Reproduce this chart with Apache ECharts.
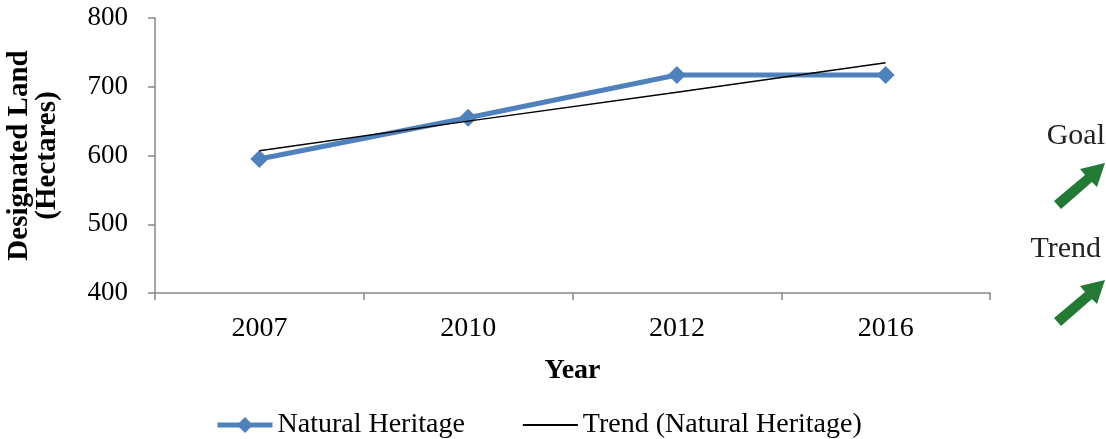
<!DOCTYPE html>
<html><head><meta charset="utf-8">
<script src="https://cdn.jsdelivr.net/npm/echarts@6/dist/echarts.min.js"></script>
<style>html,body{margin:0;padding:0;background:#fff}#c{width:1106px;height:439px}</style>
</head><body><div id="c"></div>
<script>
const categories = ['2007', '2010', '2012', '2016'];
const naturalHeritage = [595, 655, 717, 717];
const trendValues = [607, 650, 692, 735];
const yTicks = [400, 500, 600, 700, 800];

const FONT = '"Liberation Serif", "DejaVu Serif", serif';
const chart = echarts.init(document.getElementById('c'));
chart.setOption({
  animation: false,
  grid: { left: 155, right: 116, top: 18, bottom: 146, containLabel: false, outerBoundsMode: 'none' },
  xAxis: {
    type: 'category', data: categories, boundaryGap: true,
    name: 'Year', nameLocation: 'middle', nameGap: 64,
    nameTextStyle: { fontFamily: FONT, fontSize: 28, fontWeight: 'bold', color: '#000' },
    axisLine: { lineStyle: { color: '#868686', width: 1.5 } },
    axisTick: { show: true, length: 7, lineStyle: { color: '#868686', width: 1.5 } },
    axisLabel: { fontFamily: FONT, fontSize: 28, color: '#000', margin: 22 },
    splitLine: { show: false }
  },
  yAxis: {
    type: 'value', min: yTicks[0], max: yTicks[yTicks.length - 1], interval: 100,
    name: 'Designated Land\n(Hectares)', nameLocation: 'middle', nameGap: 93,
    nameTextStyle: { fontFamily: FONT, fontSize: 29, fontWeight: 'bold', color: '#000', lineHeight: 28 },
    axisLine: { show: true, lineStyle: { color: '#868686', width: 1.5 } },
    axisTick: { show: true, length: 7, lineStyle: { color: '#868686', width: 1.5 } },
    axisLabel: { fontFamily: FONT, fontSize: 27, color: '#000', margin: 27 },
    splitLine: { show: false }
  },
  legend: {
    top: 411, left: 215, padding: 0, itemGap: 57, itemWidth: 55, itemHeight: 20,
    textStyle: { fontFamily: FONT, fontSize: 28, color: '#000' },
    data: [
      { name: 'Natural Heritage', lineStyle: { width: 5, color: '#4F81BD' } },
      { name: 'Trend (Natural Heritage)', lineStyle: { width: 2, color: '#000' }, itemStyle: { opacity: 0 } }
    ]
  },
  series: [
    {
      name: 'Natural Heritage', type: 'line', data: naturalHeritage,
      symbol: 'diamond', symbolSize: 18,
      lineStyle: { color: '#4F81BD', width: 5 },
      itemStyle: { color: '#4F81BD' },
      z: 2
    },
    {
      name: 'Trend (Natural Heritage)', type: 'line', data: trendValues,
      symbol: 'none',
      lineStyle: { color: '#000', width: 1.5 },
      itemStyle: { color: '#000' },
      z: 3
    }
  ],
  graphic: [
    { type: 'text', right: 1, top: 121, style: { text: 'Goal', font: '30px ' + FONT, fill: '#222' } },
    { type: 'text', right: 5, top: 234, style: { text: 'Trend', font: '30px ' + FONT, fill: '#222' } },
    { type: 'polygon', shape: { points: [[1054,201],[1085,175],[1080,169],[1105,163],[1097,187],[1092,182],[1061,209]] }, style: { fill: '#237A35' } },
    { type: 'polygon', shape: { points: [[1054,318],[1085,292],[1080,286],[1105,280],[1097,304],[1092,299],[1061,326]] }, style: { fill: '#237A35' } }
  ]
});
</script></body></html>
